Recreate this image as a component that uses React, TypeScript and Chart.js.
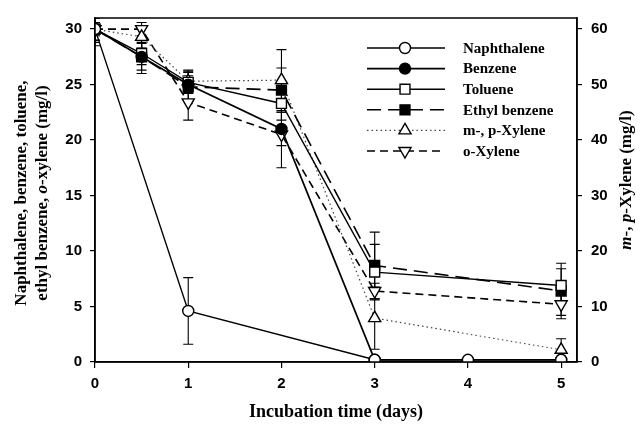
import React, { useEffect, useRef } from "react";
import { Chart, registerables } from "chart.js";

Chart.register(...registerables);

// ---- data ----
const days = [0, 0.5, 1, 2, 3, 4, 5];
const xTicks = [0, 1, 2, 3, 4, 5];
const yLeftTicks = [0, 5, 10, 15, 20, 25, 30];
const yRightTicks = [0, 10, 20, 30, 40, 50, 60];

const naphthalene = [30, null, 4.6, null, 0.2, 0.2, 0.2];
const benzene = [30, 27.5, 25.0, 21.0, 0.2, null, 0.2];
const toluene = [30, 27.8, 25.2, 23.3, 8.1, null, 6.9];
const ethylBenzene = [30, 27.5, 24.8, 24.5, 8.7, null, 6.4];
const mpXylene = [60, 58.6, 50.6, 50.8, 7.9, null, 2.2];
const oXylene = [30, 30.0, 23.4, 20.5, 6.4, null, 5.2];

const naphErr = [0.6, null, 3.0, null, 0.2, 0.1, 0.1];
const benzErr = [1.0, 1.2, 0.8, 1.5, 0.2, null, 0.1];
const tolErr = [1.2, 1.0, 1.0, 1.5, 2.5, null, 1.5];
const ethylErr = [1.5, 1.5, 1.3, 2.0, 3.0, null, 2.5];
const mpErr = [2.0, 2.0, 2.0, 5.5, 5.6, null, 2.0];
const oxErr = [1.0, 0.6, 1.6, 3.0, 0.7, null, 1.0];

const labels = ["Naphthalene", "Benzene", "Toluene", "Ethyl benzene", "m-, p-Xylene", "o-Xylene"];

const SERIF = '"Liberation Serif", "Times New Roman", serif';
const SANS = '"Liberation Sans", Arial, sans-serif';

type Marker = { style: string; filled: boolean; rot: number; r: number };

const markers: Marker[] = [
  { style: "circle", filled: false, rot: 0, r: 5.5 },
  { style: "circle", filled: true, rot: 0, r: 5.5 },
  { style: "rect", filled: false, rot: 0, r: 7 },
  { style: "rect", filled: true, rot: 0, r: 7 },
  { style: "triangle", filled: false, rot: 0, r: 7 },
  { style: "triangle", filled: false, rot: 180, r: 7 },
];
const dashes = [[], [], [], [14, 7], [1.5, 3], [8, 5]];
const widths = [1.4, 1.7, 1.4, 1.6, 1.2, 1.6];
const lineColors = ["#000", "#000", "#000", "#000", "#444", "#000"];

const seriesValues = [naphthalene, benzene, toluene, ethylBenzene, mpXylene, oXylene];
const seriesErrs = [naphErr, benzErr, tolErr, ethylErr, mpErr, oxErr];

function drawMarker(ctx: CanvasRenderingContext2D, m: Marker, x: number, y: number) {
  ctx.save();
  ctx.beginPath();
  const r = m.r;
  if (m.style === "circle") {
    ctx.arc(x, y, r, 0, Math.PI * 2);
  } else if (m.style === "rect") {
    const s = Math.SQRT1_2 * r;
    ctx.rect(x - s, y - s, 2 * s, 2 * s);
  } else {
    const dir = m.rot === 180 ? -1 : 1;
    const a = (Math.sqrt(3) / 2) * r;
    ctx.moveTo(x, y - dir * r);
    ctx.lineTo(x + a, y + dir * r * 0.5);
    ctx.lineTo(x - a, y + dir * r * 0.5);
    ctx.closePath();
  }
  ctx.fillStyle = m.filled ? "#000" : "#fff";
  ctx.fill();
  ctx.setLineDash([]);
  ctx.lineWidth = 1.4;
  ctx.strokeStyle = "#000";
  ctx.stroke();
  ctx.restore();
}

function drawSegments(ctx: CanvasRenderingContext2D, segs: [string, boolean][], cx: number, cy: number, size: number) {
  ctx.save();
  ctx.translate(cx, cy);
  ctx.rotate(-Math.PI / 2);
  ctx.textBaseline = "middle";
  ctx.textAlign = "left";
  ctx.fillStyle = "#000";
  let total = 0;
  const ws: number[] = [];
  for (const [t, it] of segs) {
    ctx.font = `${it ? "italic " : ""}bold ${size}px ${SERIF}`;
    const w = ctx.measureText(t).width;
    ws.push(w);
    total += w;
  }
  let x = -total / 2;
  segs.forEach(([t, it], i) => {
    ctx.font = `${it ? "italic " : ""}bold ${size}px ${SERIF}`;
    ctx.fillText(t, x, 0);
    x += ws[i];
  });
  ctx.restore();
}

const decorPlugin = {
  id: "decor",
  beforeDatasetsDraw(chart: any) {
    const ctx = chart.ctx as CanvasRenderingContext2D;
    const area = chart.chartArea;
    const xs = chart.scales.x;
    ctx.save();
    ctx.beginPath();
    ctx.rect(area.left, area.top, area.right - area.left, area.bottom - area.top);
    ctx.clip();
    ctx.strokeStyle = "#000";
    ctx.lineWidth = 1.1;
    ctx.setLineDash([]);
    chart.data.datasets.forEach((ds: any, i: number) => {
      const ys = chart.scales[ds.yAxisID];
      const errs = seriesErrs[i];
      days.forEach((d, j) => {
        const v = seriesValues[i][j];
        const e = errs[j];
        if (v == null || e == null) return;
        const px = xs.getPixelForValue(d);
        const y1 = ys.getPixelForValue(v - e);
        const y2 = ys.getPixelForValue(v + e);
        ctx.beginPath();
        ctx.moveTo(px, y1);
        ctx.lineTo(px, y2);
        ctx.moveTo(px - 5, y1);
        ctx.lineTo(px + 5, y1);
        ctx.moveTo(px - 5, y2);
        ctx.lineTo(px + 5, y2);
        ctx.stroke();
      });
    });
    ctx.restore();
  },
  afterDraw(chart: any) {
    const ctx = chart.ctx as CanvasRenderingContext2D;
    const area = chart.chartArea;
    ctx.save();
    // frame
    ctx.strokeStyle = "#000";
    ctx.lineWidth = 1.5;
    ctx.setLineDash([]);
    ctx.strokeRect(area.left, area.top, area.right - area.left, area.bottom - area.top);

    // legend
    const lx1 = area.right - 210;
    const lx2 = area.right - 132;
    const mx = area.right - 172;
    const tx = area.right - 114;
    labels.forEach((lab, i) => {
      const y = area.top + 30 + i * 20.6;
      ctx.save();
      ctx.strokeStyle = lineColors[i];
      ctx.lineWidth = widths[i];
      ctx.setLineDash(dashes[i]);
      ctx.beginPath();
      ctx.moveTo(lx1, y);
      ctx.lineTo(lx2, y);
      ctx.stroke();
      ctx.restore();
      drawMarker(ctx, markers[i], mx, y);
      ctx.fillStyle = "#000";
      ctx.font = `bold 15px ${SERIF}`;
      ctx.textBaseline = "middle";
      ctx.textAlign = "left";
      ctx.fillText(lab, tx, y + 1);
    });

    // axis titles
    ctx.fillStyle = "#000";
    ctx.font = `bold 18px ${SERIF}`;
    ctx.textAlign = "center";
    ctx.textBaseline = "alphabetic";
    ctx.fillText("Incubation time (days)", (area.left + area.right) / 2, 417);

    drawSegments(ctx, [["Naphthalene, benzene, toluene,", false]], 22, 193, 17);
    drawSegments(ctx, [["ethyl benzene, ", false], ["o", true], ["-xylene (mg/l)", false]], 43, 193, 17);
    drawSegments(ctx, [["m", true], ["-, ", false], ["p", true], ["-Xylene (mg/l)", false]], 627, 180, 17);
    ctx.restore();
  },
};

export default function App() {
  const ref = useRef<HTMLCanvasElement>(null);
  useEffect(() => {
    document.body.style.margin = "0";
    const datasets = labels.map((lab, i) => {
      const m = markers[i];
      return {
        label: lab,
        data: days.map((d, j) => ({ x: d, y: seriesValues[i][j] })),
        yAxisID: i === 4 ? "y2" : "y",
        borderColor: lineColors[i],
        borderWidth: widths[i],
        borderDash: dashes[i],
        pointStyle: m.style,
        pointRotation: m.rot,
        pointRadius: m.r,
        pointBackgroundColor: m.filled ? "#000" : "#fff",
        pointBorderColor: "#000",
        pointBorderWidth: 1.4,
        spanGaps: true,
        tension: 0,
        fill: false,
      };
    });
    const tickFont = { family: SANS, size: 15, weight: "bold" as const };
    const chart = new Chart(ref.current as HTMLCanvasElement, {
      type: "line",
      data: { datasets: datasets as any },
      plugins: [decorPlugin],
      options: {
        animation: false,
        responsive: false,
        layout: { padding: { top: 14, left: 0, right: 0, bottom: 0 } },
        plugins: { legend: { display: false }, tooltip: { enabled: false }, title: { display: false } },
        scales: {
          x: {
            type: "linear",
            min: 0,
            max: 5.17,
            afterBuildTicks: (s: any) => {
              s.ticks = xTicks.map((v) => ({ value: v }));
            },
            afterFit: (s: any) => {
              s.height = 62;
            },
            grid: { drawOnChartArea: false, drawTicks: true, tickLength: 6, color: "#000", lineWidth: 1.2 },
            border: { display: true, color: "#000", width: 1.5 },
            ticks: { font: tickFont, color: "#000", padding: 7, maxRotation: 0 },
          },
          y: {
            type: "linear",
            position: "left",
            min: 0,
            max: 31,
            afterBuildTicks: (s: any) => {
              s.ticks = yLeftTicks.map((v) => ({ value: v }));
            },
            afterFit: (s: any) => {
              s.width = 95;
            },
            grid: { drawOnChartArea: false, drawTicks: true, tickLength: 5, color: "#000", lineWidth: 1.2 },
            border: { display: true, color: "#000", width: 1.5 },
            ticks: { font: tickFont, color: "#000", padding: 8 },
          },
          y2: {
            type: "linear",
            position: "right",
            min: 0,
            max: 62,
            afterBuildTicks: (s: any) => {
              s.ticks = yRightTicks.map((v) => ({ value: v }));
            },
            afterFit: (s: any) => {
              s.width = 64;
            },
            grid: { drawOnChartArea: false, drawTicks: true, tickLength: 5, color: "#000", lineWidth: 1.2 },
            border: { display: true, color: "#000", width: 1.5 },
            ticks: { font: tickFont, color: "#000", padding: 9 },
          },
        },
      } as any,
    });
    return () => chart.destroy();
  }, []);
  return (
    <div style={{ width: 641, height: 424 }}>
      <canvas ref={ref} width={641} height={424} style={{ display: "block" }} />
    </div>
  );
}
